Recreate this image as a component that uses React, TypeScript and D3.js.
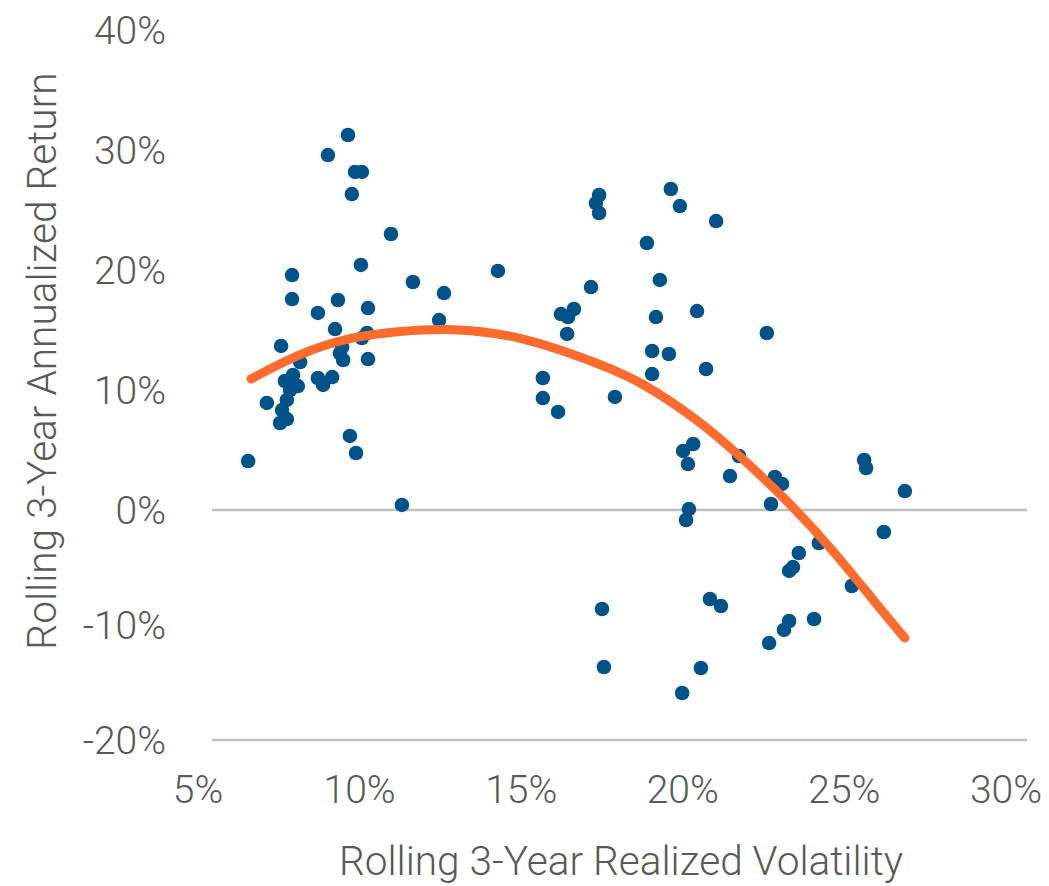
import React from "react";
import * as d3 from "d3";

// Rolling 3-year realized volatility (%) for each observation
const volatility = [
  6.55, 7.13, 7.57, 8.16, 7.69, 7.94, 8.09, 7.85, 7.75, 7.6,
  7.54, 7.75, 7.91, 7.91, 8.71, 9.02, 9.33, 8.71, 9.15, 8.87,
  9.24, 9.46, 9.39, 9.49, 9.64, 9.86, 10.07, 9.76, 9.7, 9.89,
  10.04, 10.26, 10.26, 10.07, 10.23, 10.97, 11.31, 11.65, 12.46, 12.61,
  14.28, 15.67, 15.67, 16.14, 16.23, 16.45, 16.63, 16.42, 17.16, 17.31,
  17.41, 17.41, 17.5, 17.56, 17.9, 18.89, 19.05, 19.05, 19.17, 19.29,
  19.57, 19.63, 19.91, 20.01, 20.32, 20.16, 20.1, 20.19, 19.98, 20.44,
  20.56, 20.72, 20.84, 21.18, 21.03, 21.46, 21.74, 22.6, 22.67, 22.73,
  22.85, 23.07, 23.13, 23.29, 23.29, 23.41, 23.59, 24.06, 24.21, 25.23,
  25.61, 25.67, 26.22, 26.87,
];

// Rolling 3-year annualized return (%) for each observation
const returns = [
  4.08, 8.92, 13.67, 12.33, 10.75, 11.25, 10.33, 10.0, 9.17, 8.33,
  7.25, 7.58, 19.58, 17.58, 16.42, 29.58, 17.5, 11.0, 11.08, 10.42,
  15.08, 13.58, 13.08, 12.5, 31.25, 28.17, 28.17, 26.33, 6.17, 4.75,
  20.42, 16.83, 12.58, 14.33, 14.75, 23.0, 0.42, 19.0, 15.83, 18.08,
  19.92, 11.0, 9.33, 8.17, 16.33, 16.08, 16.75, 14.67, 18.58, 25.58,
  26.25, 24.75, -8.61, -13.65, 9.42, 22.25, 13.25, 11.33, 16.08, 19.17,
  13.0, 26.75, 25.33, 4.92, 5.5, 3.83, -0.87, 0.08, -15.91, 16.58,
  -13.74, 11.75, -7.74, -8.35, 24.08, 2.83, 4.5, 14.75, -11.57, 0.5,
  2.75, 2.17, -10.43, -9.65, -5.3, -4.96, -3.74, -9.48, -2.87, -6.61,
  4.17, 3.5, -1.91, 1.58,
];

// Polynomial trend line, sampled along its length
const trendX = [6.64, 8.16, 9.7, 11.25, 12.8, 14.96, 17.53, 18.68, 20.53, 21.77, 23.22, 24.65, 26.01, 26.87];
const trendY = [10.92, 13.08, 14.42, 14.92, 15.17, 14.58, 12.08, 10.75, 7.42, 4.5, 0.83, -3.48, -8.26, -11.13];

const xTicks = [5, 10, 15, 20, 25, 30];
const yTicks = [-20, -10, 0, 10, 20, 30, 40];
const gridLevels = [-20, 0];

const FONT = "Roboto, 'Noto Sans', sans-serif";
const TEXT = "#595959";

export default function App() {
  const x = d3.scaleLinear().domain([5, 30]).range([198, 1006]);
  const y = d3.scaleLinear().domain([-20, 0, 40]).range([740, 510, 30]);

  const plotLeft = 212;
  const plotRight = 1027;

  const points = volatility.map((v, i) => ({ v, r: returns[i] }));
  const trend = trendX.map((tx, i) => [tx, trendY[i]] as [number, number]);
  const line = d3
    .line<[number, number]>()
    .x((d) => x(d[0]))
    .y((d) => y(d[1]))
    .curve(d3.curveBasis);

  return (
    <svg
      width={1049}
      height={886}
      style={{ position: "absolute", left: 0, top: 0, background: "#fff" }}
      fontFamily={FONT}
    >
      {gridLevels.map((g) => (
        <line
          key={g}
          x1={plotLeft}
          x2={plotRight}
          y1={y(g)}
          y2={y(g)}
          stroke="#BFBFBF"
          strokeWidth={2.6}
        />
      ))}

      {yTicks.map((t) => (
        <text
          key={t}
          x={166}
          y={y(t)}
          dy="0.36em"
          textAnchor="end"
          fontSize={39}
          fontWeight={300}
          fill={TEXT}
        >
          {`${t}%`}
        </text>
      ))}

      {xTicks.map((t) => (
        <text
          key={t}
          x={x(t)}
          y={803}
          textAnchor="middle"
          fontSize={39}
          fontWeight={300}
          fill={TEXT}
        >
          {`${t}%`}
        </text>
      ))}

      {points.map((p, i) => (
        <circle key={i} cx={x(p.v)} cy={y(p.r)} r={7.3} fill="#01538A" />
      ))}

      <path
        d={line(trend) || ""}
        fill="none"
        stroke="#FF6B2C"
        strokeWidth={9}
        strokeLinecap="round"
        strokeLinejoin="round"
      />

      <text
        x={621}
        y={875}
        textAnchor="middle"
        fontSize={40.6}
        fontWeight={300}
        fill={TEXT}
      >
        Rolling 3-Year Realized Volatility
      </text>
      <text
        transform="translate(56, 361) rotate(-90)"
        textAnchor="middle"
        fontSize={40.6}
        fontWeight={300}
        fill={TEXT}
      >
        Rolling 3-Year Annualized Return
      </text>
    </svg>
  );
}
